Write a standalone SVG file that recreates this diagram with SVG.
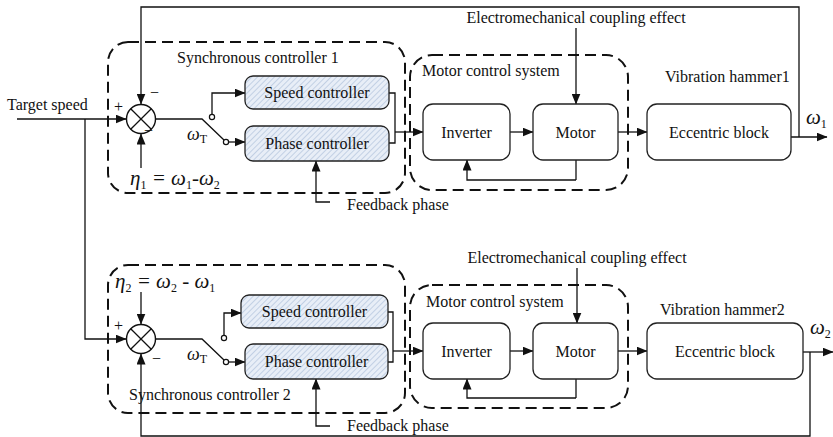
<svg xmlns="http://www.w3.org/2000/svg" width="833" height="437" viewBox="0 0 833 437">
<defs>
<marker id="arr" markerUnits="userSpaceOnUse" markerWidth="11" markerHeight="9" refX="10.5" refY="4.5" orient="auto">
<path d="M0,0 L11,4.5 L0,9 z" fill="#111"/>
</marker>
<pattern id="hatch" patternUnits="userSpaceOnUse" width="4" height="4" patternTransform="rotate(45)">
<rect width="4" height="4" fill="#e8eef7"/>
<line x1="0" y1="0" x2="0" y2="4" stroke="#a9bdd8" stroke-width="1.2"/>
</pattern>
</defs>
<style>
text{font-family:"Liberation Serif",Tinos,"Times New Roman",Times,"Noto Serif","DejaVu Serif",serif;font-size:16px;fill:#111}
.m{font-style:italic;font-size:21px}
.mt{font-style:italic;font-size:18px}
.sub{font-size:12px;font-style:normal}
.dash{fill:none;stroke:#111;stroke-width:2;stroke-dasharray:11 6}
.blk{fill:#fff;stroke:#222;stroke-width:1.3}
.ctl{fill:url(#hatch);stroke:#222;stroke-width:1.3}
.ln{fill:none;stroke:#111;stroke-width:1.3}
.ar{fill:none;stroke:#111;stroke-width:1.3;marker-end:url(#arr)}
.ct{fill:#fff;stroke:#111;stroke-width:1.2}
</style>
<rect width="833" height="437" fill="#fff"/>

<!-- dashed boxes -->
<g id="sync1"><rect class="dash" x="108" y="42" width="297" height="151" rx="20"/><text x="177" y="63">Synchronous controller 1</text></g>
<g id="mcs1"><rect class="dash" x="410" y="55" width="218" height="135" rx="22"/><text x="422" y="76">Motor control system</text></g>
<g id="sync2"><rect class="dash" x="108" y="265" width="297" height="148" rx="20"/><text x="129" y="400">Synchronous controller 2</text></g>
<g id="mcs2"><rect class="dash" x="410" y="285" width="218" height="123" rx="22"/><text x="426" y="307">Motor control system</text></g>

<!-- connectors -->
<g id="connectors">
<path class="ar" d="M799,137 V7 H141 V104"/>
<path class="ar" d="M17,119 H126"/>
<path class="ar" d="M85,119 V339 H126"/>
<path class="ar" d="M141,168 V134"/>
<path class="ln" d="M155.5,119 H202 L224,140"/>
<path class="ar" d="M212,114.5 V93 H245"/>
<path class="ar" d="M228.5,142 H245"/>
<path class="ln" d="M389,93 H395 V143 H389"/>
<path class="ar" d="M395,132 H423"/>
<path class="ar" d="M330,202 H316 V161"/>
<path class="ar" d="M510,132 H533"/>
<path class="ar" d="M618,132 H647"/>
<path class="ln" d="M576,160 V180"/>
<path class="ar" d="M576,180 H467 V160"/>
<path class="ar" d="M576,28 V104"/>
<path class="ar" d="M791,137 H827"/>

<path class="ar" d="M141,292 V324"/>
<path class="ar" d="M810,352 V436 H141 V354"/>
<path class="ln" d="M155.5,339 H202 L224,360"/>
<path class="ar" d="M224,335.5 V313 H241"/>
<path class="ar" d="M228.5,362 H245"/>
<path class="ln" d="M388,312 H393 V362 H388"/>
<path class="ar" d="M393,351 H423"/>
<path class="ar" d="M330,426 H316 V379"/>
<path class="ar" d="M510,351 H533"/>
<path class="ar" d="M618,351 H647"/>
<path class="ln" d="M576,379 V398"/>
<path class="ar" d="M576,398 H467 V379"/>
<path class="ar" d="M577,268 V323"/>
<path class="ar" d="M803,352 H833"/>
<circle class="ct" cx="212" cy="117" r="2.6"/>
<circle class="ct" cx="226" cy="142" r="2.6"/>
<circle class="ct" cx="224" cy="338" r="2.6"/>
<circle class="ct" cx="226" cy="362" r="2.6"/>
</g>

<!-- upper system -->
<g id="sum1">
<circle cx="141" cy="119" r="14.5" fill="#fff" stroke="#111" stroke-width="1.4"/>
<path class="ln" d="M130.7,108.7 L151.3,129.3 M151.3,108.7 L130.7,129.3"/>
<text x="114" y="112">+</text><text x="150" y="98">−</text><text x="144" y="136">−</text>
</g>
<g id="target"><text x="7" y="110">Target speed</text></g>
<g id="eta1"><text class="m" x="130" y="185">η<tspan class="sub" dy="4">1</tspan><tspan dy="-4"> = ω</tspan><tspan class="sub" dy="4">1</tspan><tspan dy="-4">-ω</tspan><tspan class="sub" dy="4">2</tspan></text></g>
<g id="wt1"><text class="mt" x="187" y="140">ω<tspan class="sub" dy="3">T</tspan></text></g>
<g id="speed1"><rect class="ctl" x="245" y="76" width="144" height="33" rx="8"/><text x="317" y="98" text-anchor="middle">Speed controller</text></g>
<g id="phase1"><rect class="ctl" x="245" y="126" width="144" height="35" rx="8"/><text x="317" y="149" text-anchor="middle">Phase controller</text></g>
<g id="fb1"><text x="347" y="210">Feedback phase</text></g>
<g id="inv1"><rect class="blk" x="423" y="104" width="87" height="56" rx="10"/><text x="466.5" y="138" text-anchor="middle">Inverter</text></g>
<g id="motor1"><rect class="blk" x="533" y="104" width="85" height="56" rx="10"/><text x="575.5" y="138" text-anchor="middle">Motor</text></g>
<g id="ecc1"><rect class="blk" x="647" y="104" width="144" height="56" rx="10"/><text x="719" y="138" text-anchor="middle">Eccentric block</text></g>
<g id="emc1"><text x="576" y="23" text-anchor="middle">Electromechanical coupling effect</text></g>
<g id="vh1"><text x="665" y="82">Vibration hammer1</text></g>
<g id="w1"><text class="m" x="806" y="124">ω<tspan class="sub" dy="4">1</tspan></text></g>

<!-- lower system -->
<g id="sum2">
<circle cx="141" cy="339" r="14.5" fill="#fff" stroke="#111" stroke-width="1.4"/>
<path class="ln" d="M130.7,328.7 L151.3,349.3 M151.3,328.7 L130.7,349.3"/>
<text x="114" y="331">+</text><text x="152" y="364">−</text>
</g>
<g id="eta2"><text class="m" x="115" y="288">η<tspan class="sub" dy="4">2</tspan><tspan dy="-4"> = ω</tspan><tspan class="sub" dy="4">2</tspan><tspan dy="-4"> - ω</tspan><tspan class="sub" dy="4">1</tspan></text></g>
<g id="wt2"><text class="mt" x="187" y="360">ω<tspan class="sub" dy="3">T</tspan></text></g>
<g id="speed2"><rect class="ctl" x="241" y="295" width="147" height="33" rx="8"/><text x="314.5" y="317" text-anchor="middle">Speed controller</text></g>
<g id="phase2"><rect class="ctl" x="245" y="344" width="143" height="35" rx="8"/><text x="316.5" y="367" text-anchor="middle">Phase controller</text></g>
<g id="fb2"><text x="347" y="431">Feedback phase</text></g>
<g id="inv2"><rect class="blk" x="423" y="323" width="87" height="56" rx="10"/><text x="466.5" y="357" text-anchor="middle">Inverter</text></g>
<g id="motor2"><rect class="blk" x="533" y="323" width="85" height="56" rx="10"/><text x="575.5" y="357" text-anchor="middle">Motor</text></g>
<g id="ecc2"><rect class="blk" x="647" y="323" width="156" height="56" rx="10"/><text x="725" y="357" text-anchor="middle">Eccentric block</text></g>
<g id="emc2"><text x="577" y="263" text-anchor="middle">Electromechanical coupling effect</text></g>
<g id="vh2"><text x="660" y="315">Vibration hammer2</text></g>
<g id="w2"><text class="m" x="810" y="334">ω<tspan class="sub" dy="4">2</tspan></text></g>
</svg>
